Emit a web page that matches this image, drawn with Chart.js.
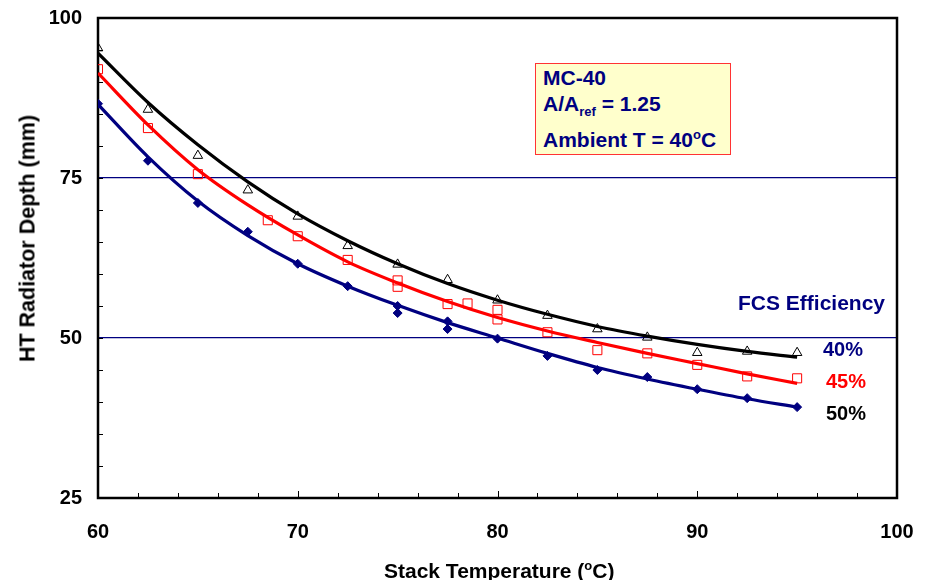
<!DOCTYPE html>
<html>
<head>
<meta charset="utf-8">
<script src="https://cdn.jsdelivr.net/npm/chart.js@4.4.1/dist/chart.umd.min.js"></script>
<style>
  body { margin: 0; background: #fff; }
  #wrap { position: relative; width: 926px; height: 580px; font-family: "Liberation Sans", Arial, sans-serif; font-weight: bold; }
  .lbl { position: absolute; white-space: nowrap; }
  #note { position: absolute; left: 535px; top: 63px; width: 194px; height: 90px; background: #ffffcc; border: 1px solid #ff3333; color: #000080; font-size: 21px; }
  #note div { position: absolute; left: 7px; white-space: nowrap; }
  sub { font-size: 13px; vertical-align: -5px; }
  sup { font-size: 13px; vertical-align: 8px; }
</style>
</head>
<body>
<div id="wrap">
  <canvas id="chart" width="926" height="580"></canvas>
  <div id="note">
    <div style="top:2px">MC-40</div>
    <div style="top:28px">A/A<sub>ref</sub> = 1.25</div>
    <div style="top:63px">Ambient T = 40<sup>o</sup>C</div>
  </div>
  <div class="lbl" style="left:738px;top:291px;font-size:21px;color:#000080">FCS Efficiency</div>
  <div class="lbl" style="left:823px;top:338px;font-size:20px;color:#000080">40%</div>
  <div class="lbl" style="left:826px;top:370px;font-size:20px;color:#ff0000">45%</div>
  <div class="lbl" style="left:826px;top:402px;font-size:20px;color:#000000">50%</div>
  <div class="lbl" style="left:384px;top:558px;font-size:21px;color:#000">Stack Temperature (<sup>o</sup>C)</div>
  <div class="lbl" style="left:-104px;top:226px;width:264px;text-align:center;font-size:21.5px;color:#000;transform:rotate(-90deg)">HT Radiator Depth (mm)</div>
</div>
<script>
// measured points
const tempBlack = [60, 62.5, 65, 67.5, 70, 72.5, 75, 77.5, 80, 82.5, 85, 87.5, 90, 92.5, 95];
const eff40 = [95.3, 85.7, 78.5, 73.1, 69.0, 64.4, 61.5, 59.1, 55.9, 53.5, 51.4, 50.1, 47.7, 47.9, 47.7];

const tempRed = [60, 62.5, 65, 68.5, 70, 72.5, 75, 75, 77.5, 78.5, 80, 80, 82.5, 85, 87.5, 90, 92.5, 95];
const eff45 = [92.0, 82.8, 75.6, 68.4, 65.9, 62.2, 59.0, 58.0, 55.3, 55.4, 54.4, 52.9, 50.9, 48.1, 47.6, 45.8, 44.0, 43.7];

const tempBlue = [60, 62.5, 65, 67.5, 70, 72.5, 75, 75, 77.5, 77.5, 80, 82.5, 85, 87.5, 90, 92.5, 95];
const eff50 = [86.6, 77.7, 71.1, 66.6, 61.6, 58.1, 55.0, 53.9, 52.6, 51.4, 49.9, 47.2, 45.0, 43.9, 42.0, 40.6, 39.2];

// trend curves
const fitTemp = [60, 62.5, 65, 67.5, 70, 72.5, 75, 77.5, 80, 82.5, 85, 87.5, 90, 92.5, 95];
const fit40 = [94.5, 86.8, 80.2, 74.4, 69.4, 65.2, 61.6, 58.5, 55.9, 53.7, 51.8, 50.3, 49.0, 47.9, 47.0];
const fit45 = [91.4, 83.3, 76.3, 70.8, 66.1, 61.9, 58.6, 55.7, 53.2, 51.1, 49.3, 47.6, 46.0, 44.4, 42.9];
const fit50 = [86.5, 78.3, 71.4, 66.0, 61.6, 58.1, 55.1, 52.4, 50.0, 47.6, 45.4, 43.6, 42.0, 40.5, 39.2];

const xTicks = [60, 70, 80, 90, 100];
const yTicks = [25, 50, 75, 100];
const gridAt = [50, 75];

const NAVY = '#000080';
const toXY = (xs, ys) => xs.map((x, i) => ({ x: x, y: ys[i] }));

const fitLine = (data, color) => ({
    data: data, showLine: true, borderColor: color, borderWidth: 3.2,
    pointRadius: 0, cubicInterpolationMode: 'monotone', fill: false, order: 2
});

// frame and inward tick marks
const frame = {
    id: 'frame',
    beforeDatasetsDraw(chart) {
        const { ctx, chartArea: a, scales } = chart;
        ctx.save();
        ctx.strokeStyle = '#000';
        ctx.lineWidth = 1;
        ctx.beginPath();
        for (let v = 60; v <= 100; v += 2) {
            const px = Math.round(scales.x.getPixelForValue(v)) + 0.5;
            ctx.moveTo(px, a.bottom);
            ctx.lineTo(px, a.bottom - (v % 10 === 0 ? 7 : 5));
        }
        for (let v = 25; v <= 100; v += 5) {
            const py = Math.round(scales.y.getPixelForValue(v)) + 0.5;
            ctx.moveTo(a.left, py);
            ctx.lineTo(a.left + 5, py);
        }
        ctx.stroke();
        ctx.lineWidth = 2.5;
        ctx.strokeRect(a.left, a.top, a.right - a.left, a.bottom - a.top);
        ctx.restore();
    }
};

// no extra room for edge labels, the layout padding sets the plot box
const noEdgePad = (s) => { s.paddingTop = 0; s.paddingBottom = 0; s.paddingLeft = 0; s.paddingRight = 0; };

const font = { family: '"Liberation Sans", Arial, sans-serif', size: 20, weight: 'bold' };

new Chart(document.getElementById('chart'), {
    type: 'scatter',
    data: {
        datasets: [
            fitLine(toXY(fitTemp, fit40), '#000000'),
            fitLine(toXY(fitTemp, fit45), '#ff0000'),
            fitLine(toXY(fitTemp, fit50), NAVY),
            { data: toXY(tempBlack, eff40), pointStyle: 'triangle', pointRadius: 5.5, borderColor: '#000', borderWidth: 1, backgroundColor: 'rgba(0,0,0,0)', order: 1 },
            { data: toXY(tempRed, eff45), pointStyle: 'rect', pointRadius: 6.4, borderColor: '#ff0000', borderWidth: 1, backgroundColor: 'rgba(0,0,0,0)', order: 1 },
            { data: toXY(tempBlue, eff50), pointStyle: 'rectRot', pointRadius: 4.5, borderColor: NAVY, borderWidth: 1, backgroundColor: NAVY, order: 1 }
        ]
    },
    options: {
        responsive: false,
        animation: false,
        layout: { padding: { left: 0, right: 29, top: 18, bottom: 0 } },
        plugins: { legend: { display: false }, tooltip: { enabled: false } },
        scales: {
            x: {
                type: 'linear', min: 60, max: 100,
                afterFit: (s) => { s.height = 82; noEdgePad(s); },
                grid: { display: false, drawTicks: false },
                border: { display: false },
                ticks: {
                    stepSize: 2, autoSkip: false, maxRotation: 0, padding: 22, color: '#000', font: font,
                    callback: (v) => xTicks.includes(v) ? v : ''
                }
            },
            y: {
                min: 25, max: 100,
                afterFit: (s) => { s.width = 98; noEdgePad(s); },
                grid: {
                    drawTicks: false, lineWidth: 1.3,
                    color: (c) => gridAt.includes(c.tick.value) ? NAVY : 'rgba(0,0,0,0)'
                },
                border: { display: false },
                ticks: {
                    stepSize: 5, autoSkip: false, padding: 16, color: '#000', font: font,
                    callback: (v) => yTicks.includes(v) ? v : ''
                }
            }
        }
    },
    plugins: [frame]
});
</script>
</body>
</html>
